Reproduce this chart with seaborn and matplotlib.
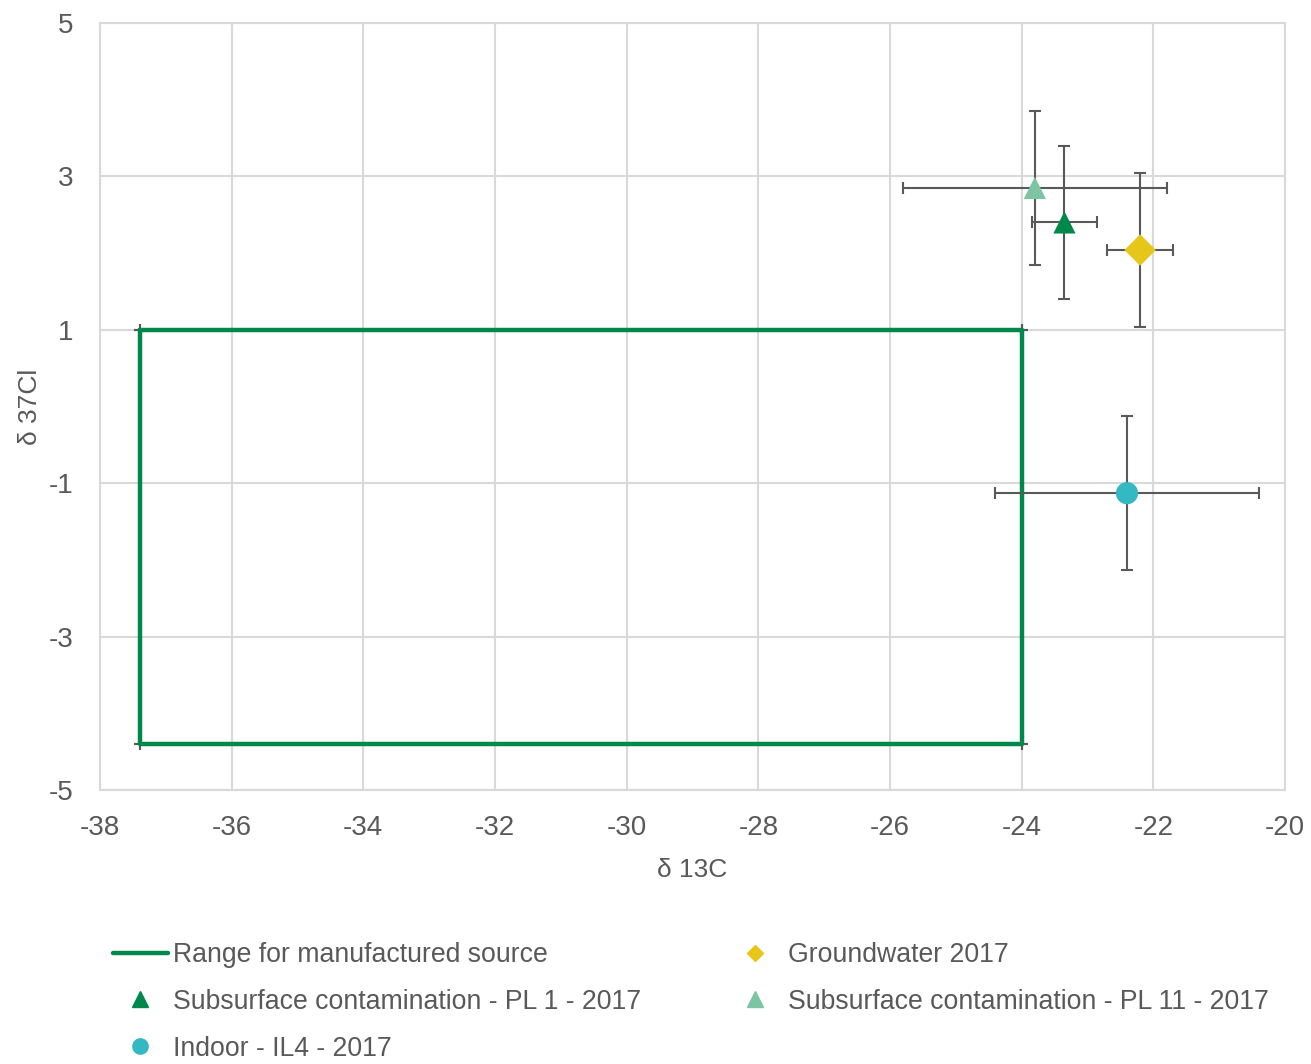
import matplotlib
matplotlib.use("Agg")
import matplotlib.pyplot as plt
import seaborn as sns
import pandas as pd
from matplotlib.lines import Line2D

# range for manufactured source (closed outline)
box_x = [-37.4, -24.0, -24.0, -37.4, -37.4]
box_y = [1.0, 1.0, -4.4, -4.4, 1.0]

# samples: d13C, d37Cl and their uncertainties
labels = ['Subsurface contamination - PL 1 - 2017',
          'Indoor - IL4 - 2017',
          'Groundwater 2017',
          'Subsurface contamination - PL 11 - 2017']
d13c = [-23.35, -22.4, -22.2, -23.8]
d37cl = [2.4, -1.13, 2.04, 2.85]
d13c_err = [0.5, 2.0, 0.5, 2.0]
d37cl_err = [1.0, 1.0, 1.0, 1.0]

colors = ['#00884a', '#33b8c4', '#e6c619', '#7dc4a3']
markers = ['^', 'o', 'D', '^']
box_label = 'Range for manufactured source'
box_color = '#00884a'

xticks = list(range(-38, -19, 2))
yticks = [-5, -3, -1, 1, 3, 5]

sns.set_style("whitegrid")
plt.rcParams['font.family'] = ['Liberation Sans', 'DejaVu Sans']
plt.rcParams['axes.unicode_minus'] = False
text_color = '#595959'
grid_color = '#d9d9d9'

fig = plt.figure(figsize=(13.11, 10.64), dpi=100)
ax = fig.add_axes([100 / 1311, 1 - 790 / 1064, 1185 / 1311, 767 / 1064])

# corner caps (zero-length error bars on the outline series)
ax.errorbar(box_x[:-1], box_y[:-1], xerr=0, yerr=0, fmt='none',
            ecolor=text_color, elinewidth=1.5, capsize=4.3, capthick=1.5, zorder=2)
sns.lineplot(x=box_x, y=box_y, sort=False, estimator=None, color=box_color,
             linewidth=3.2, ax=ax, zorder=3, legend=False)

ax.errorbar(d13c, d37cl, xerr=d13c_err, yerr=d37cl_err, fmt='none',
            ecolor=text_color, elinewidth=1.5, capsize=4.3, capthick=1.5, zorder=4)

df = pd.DataFrame({'d13C': d13c, 'd37Cl': d37cl, 'sample': labels})
sns.scatterplot(data=df, x='d13C', y='d37Cl', hue='sample', style='sample',
                palette=dict(zip(labels, colors)), markers=dict(zip(labels, markers)),
                s=256, linewidth=0, ax=ax, zorder=5, legend=False)

ax.set_xlim(-38, -20)
ax.set_ylim(-5, 5)
ax.set_xticks(xticks)
ax.set_yticks(yticks)
ax.grid(True, color=grid_color, linewidth=1.5)
for sp in ax.spines.values():
    sp.set_color(grid_color)
    sp.set_linewidth(1.5)
ax.tick_params(axis='both', length=0, labelsize=20, labelcolor=text_color)
ax.tick_params(axis='x', pad=18)
ax.tick_params(axis='y', pad=19)
ax.set_xlabel('δ 13C', fontsize=19, color=text_color, labelpad=12)
ax.set_ylabel('δ 37Cl', fontsize=19, color=text_color, labelpad=5)

handles = [Line2D([], [], color=box_color, linewidth=3.2)]
for c, m in zip(colors, markers):
    ms = 8 if m == 'D' else 11
    handles.append(Line2D([], [], linestyle='none', marker=m, color=c, markersize=ms))
leg_labels = [box_label] + labels
fig.legend(handles, leg_labels,
           loc='upper left', bbox_to_anchor=(113 / 1311, 1 - 942 / 1064), ncol=2,
           frameon=False, fontsize=19.2, labelcolor=text_color, borderpad=0,
           borderaxespad=0, handlelength=2.05, handletextpad=0.2,
           columnspacing=3.25, labelspacing=0.78)

fig.savefig('out.png', dpi=100)
